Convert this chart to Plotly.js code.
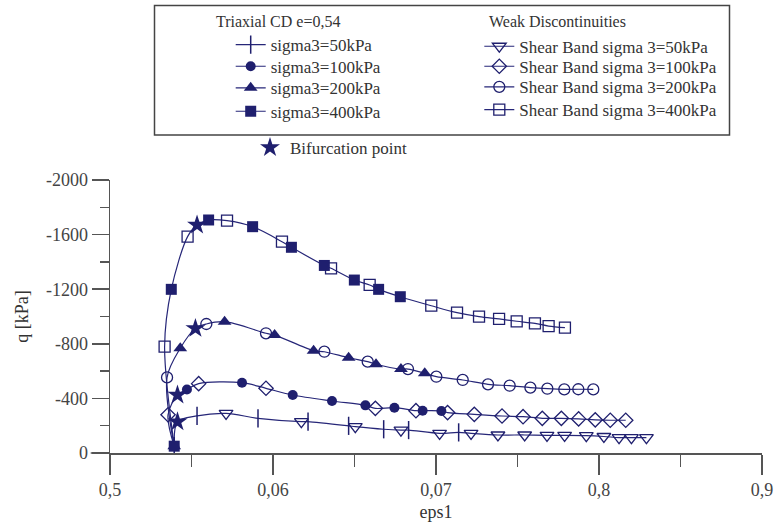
<!DOCTYPE html>
<html>
<head>
<meta charset="utf-8">
<script src="https://cdn.plot.ly/plotly-3.0.1.min.js"></script>
<style>html,body{margin:0;padding:0;background:#fff;}</style>
</head>
<body>
<div id="chart" style="width:781px;height:525px;"></div>
<script>
// ---------- data (eps1, q [kPa]) ----------
// Triaxial CD e=0,54 (first point = common start of the tests)
const tri50_x  = [0.05394, 0.05534, 0.05908, 0.06215, 0.06464, 0.06679, 0.06832, 0.07139];
const tri50_q  = [-50, -272, -254, -230, -199, -174, -168, -151];
const tri100_x = [0.05394, 0.05472, 0.05810, 0.06121, 0.06362, 0.06567, 0.06745, 0.06918, 0.07033];
const tri100_q = [-50, -465, -515, -425, -381, -349, -332, -310, -308];
const tri200_x = [0.05394, 0.05431, 0.05703, 0.06010, 0.06249, 0.06464, 0.06632, 0.06785, 0.06931];
const tri200_q = [-50, -767, -962, -864, -750, -698, -650, -615, -584];
const tri400_x = [0.05394, 0.05376, 0.05605, 0.05875, 0.06113, 0.06315, 0.06499, 0.06648, 0.06781];
const tri400_q = [-50, -1199, -1707, -1658, -1507, -1374, -1267, -1199, -1145];

// Weak Discontinuities - Shear Band
const sb50_x  = [0.05712, 0.06174, 0.06505, 0.06785, 0.07022, 0.07215, 0.07380, 0.07544, 0.07681, 0.07789, 0.07922, 0.08030, 0.08123, 0.08199, 0.08291];
const sb50_q  = [-290, -230, -193, -168, -144, -144, -132, -132, -129, -129, -127, -121, -113, -113, -113];
const sb100_x = [0.05356, 0.05544, 0.05957, 0.06628, 0.06877, 0.07071, 0.07235, 0.07405, 0.07534, 0.07652, 0.07769, 0.07875, 0.07977, 0.08069, 0.08164];
const sb100_q = [-280, -508, -474, -327, -310, -296, -283, -271, -266, -254, -254, -250, -243, -240, -240];
const sb200_x = [0.05350, 0.05591, 0.05957, 0.06315, 0.06581, 0.06828, 0.07002, 0.07164, 0.07319, 0.07452, 0.07579, 0.07683, 0.07787, 0.07873, 0.07965];
const sb200_q = [-554, -945, -877, -742, -669, -615, -559, -535, -503, -493, -479, -471, -466, -467, -466];
const sb400_x = [0.05335, 0.05476, 0.05718, 0.06055, 0.06356, 0.06593, 0.06971, 0.07129, 0.07264, 0.07387, 0.07495, 0.07607, 0.07691, 0.07791];
const sb400_q = [-779, -1585, -1702, -1548, -1353, -1231, -1079, -1028, -999, -982, -965, -950, -930, -918];

// Bifurcation points (sigma3 = 50, 100, 200, 400 kPa)
const bif_x = [0.05414, 0.05414, 0.05524, 0.05534];
const bif_q = [-229, -425, -913, -1670];

// Axis ticks
const xTickVals = [0.05, 0.06, 0.07, 0.08, 0.09];
const xTickText = ['0,5', '0,06', '0,07', '0,8', '0,9'];
const yTickVals = [0, -400, -800, -1200, -1600, -2000];
const yTickText = ['0', '-400', '-800', '-1200', '-1600', '-2000'];

// Legend labels
const triNames = ['sigma3=50kPa', 'sigma3=100kPa', 'sigma3=200kPa', 'sigma3=400kPa'];
const sbNames  = ['Shear Band sigma 3=50kPa', 'Shear Band sigma 3=100kPa', 'Shear Band sigma 3=200kPa', 'Shear Band sigma 3=400kPa'];
const bifName  = 'Bifurcation point';

// ---------- build ----------
const NAVY = '#1f1f6e';
const LINE = '#262678';
const FONT = 'Liberation Serif, DejaVu Serif, serif';

const triX = [tri50_x, tri100_x, tri200_x, tri400_x];
const triQ = [tri50_q, tri100_q, tri200_q, tri400_q];
const sbX  = [sb50_x, sb100_x, sb200_x, sb400_x];
const sbQ  = [sb50_q, sb100_q, sb200_q, sb400_q];

// smooth curve through all points of one confining pressure
function curvePoints(i) {
  const pts = [];
  triX[i].forEach((x, k) => pts.push([x, triQ[i][k]]));
  sbX[i].forEach((x, k) => pts.push([x, sbQ[i][k]]));
  pts.push([bif_x[i], bif_q[i]]);
  let peak = pts[0];
  pts.forEach(p => { if (p[1] < peak[1]) peak = p; });
  const pre = pts.filter(p => p[0] <= peak[0]).sort((a, b) => b[1] - a[1]);
  const post = pts.filter(p => p[0] > peak[0]).sort((a, b) => a[0] - b[0]);
  const all = pre.concat(post);
  return {x: all.map(p => p[0]), y: all.map(p => p[1])};
}
// markers only in the plot, line kept for the legend symbol
function gapped(arr) {
  const out = [];
  arr.forEach((v, k) => { if (k) out.push(null); out.push(v); });
  return out;
}

const traces = [];
for (let i = 0; i < 4; i++) {
  const c = curvePoints(i);
  traces.push({x: c.x, y: c.y, mode: 'lines', line: {shape: 'spline', smoothing: 0.9, color: LINE, width: 1.2},
               showlegend: false, hoverinfo: 'skip'});
}
const sbSymbols = ['triangle-down-open', 'diamond-open', 'circle-open', 'square-open'];
const sbSizes = [12, 11, 11, 11];
for (let i = 0; i < 4; i++) {
  traces.push({x: gapped(sbX[i]), y: gapped(sbQ[i]), name: sbNames[i], mode: 'lines+markers',
    line: {color: LINE, width: 1.2}, connectgaps: false,
    marker: {symbol: sbSymbols[i], size: sbSizes[i], color: NAVY, line: {color: NAVY, width: 1.3}},
    legend: 'legend' + (i + 5)});
}
const triSymbols = ['line-ns', 'circle', 'triangle-up', 'square'];
const triSizes = [13, 10, 12, 11];
for (let i = 0; i < 4; i++) {
  traces.push({x: gapped(triX[i]), y: gapped(triQ[i]), name: triNames[i], mode: 'lines+markers',
    line: {color: LINE, width: 1.2}, connectgaps: false,
    marker: {symbol: triSymbols[i], size: triSizes[i], color: NAVY, line: {color: NAVY, width: i === 0 ? 1.5 : 0}},
    legend: i === 0 ? 'legend' : 'legend' + (i + 1)});
}
traces.push({x: bif_x, y: bif_q, name: bifName, mode: 'markers',
  marker: {symbol: 'star', size: 15, color: NAVY}, legend: 'legend9'});

// geometry helpers (pixel -> paper)
const ML = 110, MR = 19, MT = 180, MB = 72, W = 781, H = 525;
const PW = W - ML - MR, PH = H - MT - MB;
const px2x = p => (p - ML) / PW;
const py2y = p => (H - MB - p) / PH;

const legendFont = {family: FONT, size: 17, color: '#333'};
function legendAt(textLeft, yc) {
  return {x: px2x(textLeft - 40), y: py2y(yc), xanchor: 'left', yanchor: 'middle',
          bgcolor: 'rgba(0,0,0,0)', borderwidth: 0, font: legendFont, itemclick: false};
}
const layout = {
  width: W, height: H,
  margin: {l: ML, r: MR, t: MT, b: MB},
  paper_bgcolor: '#fff', plot_bgcolor: '#fff',
  showlegend: true,
  xaxis: {
    range: [0.05, 0.09], tickmode: 'array', tickvals: xTickVals, ticktext: xTickText,
    ticks: 'outside', ticklen: 20, tickwidth: 1.5, tickcolor: '#555',
    minor: {ticks: 'outside', ticklen: 12, tickwidth: 1.5, tickcolor: '#555', tick0: 0.05, dtick: 0.005, showgrid: false},
    showline: true, linecolor: '#555', linewidth: 1.5, showgrid: false, zeroline: false,
    tickfont: {family: FONT, size: 18, color: '#444'},
    title: {text: 'eps1', font: {family: FONT, size: 18, color: '#333'}, standoff: 6}
  },
  yaxis: {
    range: [0, -2000], tickmode: 'array', tickvals: yTickVals, ticktext: yTickText,
    ticks: 'outside', ticklen: 17, tickwidth: 1.5, tickcolor: '#555',
    minor: {ticks: 'outside', ticklen: 9, tickwidth: 1.5, tickcolor: '#555', tick0: 0, dtick: 200, showgrid: false},
    showline: true, linecolor: '#555', linewidth: 1.5, showgrid: false, zeroline: false,
    tickfont: {family: FONT, size: 18, color: '#444'},
    title: {text: 'q [kPa]', font: {family: FONT, size: 18, color: '#333'}, standoff: 12}
  },
  legend:  legendAt(270.7, 45),
  legend2: legendAt(270.7, 66.7),
  legend3: legendAt(270.7, 88.3),
  legend4: legendAt(270.7, 111.7),
  legend5: legendAt(519.3, 46.7),
  legend6: legendAt(519.3, 66.7),
  legend7: legendAt(519.3, 87.3),
  legend8: legendAt(519.3, 110),
  legend9: legendAt(290, 148),
  shapes: [
    {type: 'rect', xref: 'paper', yref: 'paper', x0: px2x(154.5), x1: px2x(729.5), y0: py2y(135), y1: py2y(5.5),
     line: {color: '#444', width: 1.5}, fillcolor: 'rgba(0,0,0,0)'},
    {type: 'line', xref: 'paper', yref: 'paper', x0: px2x(90.7), x1: 0, y0: 0, y1: 0,
     line: {color: '#555', width: 1.5}}
  ],
  annotations: [
    {text: 'Triaxial CD e=0,54', xref: 'paper', yref: 'paper', x: px2x(277.5), y: py2y(21.7),
     xanchor: 'center', yanchor: 'middle', showarrow: false, font: {family: FONT, size: 16, color: '#333'}},
    {text: 'Weak Discontinuities', xref: 'paper', yref: 'paper', x: px2x(557), y: py2y(21.7),
     xanchor: 'center', yanchor: 'middle', showarrow: false, font: {family: FONT, size: 16, color: '#333'}}
  ]
};
Plotly.newPlot('chart', traces, layout, {displayModeBar: false, staticPlot: true});
</script>
</body>
</html>
